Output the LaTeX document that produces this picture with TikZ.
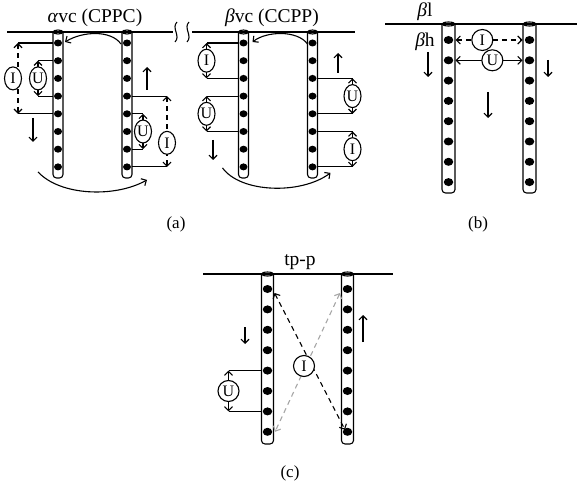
\documentclass[tikz,border=0pt]{standalone}
\usepackage{fontspec}
\setmainfont{Liberation Serif}
\usetikzlibrary{arrows.meta,shapes.geometric,calc}
\tikzset{
  ln/.style={line width=1.1pt},
  mytip/.tip={Straight Barb[length=4pt,width=8pt,line width=1.1pt]},
  arr/.style={-mytip},
  darr/.style={mytip-mytip},
  dsh/.style={dash pattern=on 5pt off 4pt},
  pipeline/.style={line width=1.1pt},
  dotn/.style={ellipse,fill=black,inner sep=0pt,minimum width=8pt,minimum height=7pt},
  dotb/.style={ellipse,fill=black,inner sep=0pt,minimum width=9.5pt,minimum height=8pt},
  laba/.style={draw=black,solid,ellipse,fill=white,line width=1.1pt,inner sep=0pt,minimum width=17pt,minimum height=23pt,font=\fontsize{16}{16}\selectfont},
  labc/.style={draw=black,solid,circle,fill=white,line width=1.1pt,inner sep=0pt,minimum size=21pt,font=\fontsize{16}{16}\selectfont},
  ttl/.style={font=\fontsize{19.5}{19.5}\selectfont},
  capl/.style={font=\fontsize{17}{17}\selectfont},
}
% pipe: #1 name, #2 x, #3 ytop, #4 ybot, #5 half width, #6 first dot y, #7 dot spacing, #8 dot style
\newcommand\mypipe[8]{%
  \draw[pipeline,rounded corners=3.5pt] ({#2-#5},#3) -- ({#2-#5},#4) -- ({#2+#5},#4) -- ({#2+#5},#3);
  \draw[pipeline] (#2,#3) ellipse ({#5} and 2);
  \foreach \i in {1,...,8} {\node[#8] (#1-\i) at (#2,{#6+(\i-1)*#7}) {};}
}
% bracket: #1 top dot, #2 bottom dot, #3 signed offset dot->pipe edge, #4 signed length, #5 arrow style, #6 label style, #7 text
\newcommand\brk[7]{%
  \draw[ln] ($(#1)+(#3,0)$) -- ++(#4,0) coordinate (bt);
  \draw[ln] ($(#2)+(#3,0)$) -- ++(#4,0) coordinate (bb);
  \draw[ln,#5] (bt) -- (bb) node[midway,#6] {#7};
}
\begin{document}
\begin{tikzpicture}[x=1pt,y=-1pt]
\useasboundingbox (0,0) rectangle (577,486);

% ---------------- panel (a) alpha vc
\node[ttl] (ta) at (95,18) {\textit{α}vc (CPPC)};
\draw[ln] (7,32) -- (173,32);
\draw[ln] (192,32) -- (355,32);
\draw[ln] (177,22) .. controls (171,28) and (181,36) .. (175,42);
\draw[ln] (189,22) .. controls (183,28) and (193,36) .. (187,42);

\mypipe{A1}{58}{32}{178}{5}{43}{17.7}{dotn}
\mypipe{A2}{127}{32}{178}{5}{43}{17.7}{dotn}

\draw[ln,arr] ($(A2-1)+(-6,1)$) .. controls +(-10,-14) and +(18,-11) .. ($(A1-1)+(7,-1)$);
\draw[ln,arr] ($(A1-8)+(-20,5)$) .. controls +(22,24) and +(-32,18) .. ($(A2-8)+(20,13)$);

\brk{A1-1}{A1-5}{-5}{-35}{darr,dsh}{laba,xshift=-5pt}{I}
\brk{A1-2}{A1-4}{-5}{-15}{darr}{laba}{U}
\draw[ln,arr] (33,118) -- (33,142);

\draw[ln,arr] (147,90) -- (147,67);
\brk{A2-4}{A2-8}{5}{35}{darr,dsh}{laba,pos=0.66}{I}
\brk{A2-5}{A2-7}{5}{11}{darr}{laba}{U}

% ---------------- panel (a) beta vc
\node[ttl] (tb) at (272,18) {\textit{β}vc (CCPP)};
\mypipe{B1}{243.5}{32}{178}{5}{43}{17.7}{dotn}
\mypipe{B2}{312.5}{32}{178}{5}{43}{17.7}{dotn}

\draw[ln,arr] ($(B2-1)+(-5,1)$) .. controls +(-10,-14) and +(14,-11) .. ($(B1-1)+(9,-1)$);
\draw[ln,arr] ($(B1-8)+(-21,1)$) .. controls +(18,25) and +(-30,22) .. ($(B2-8)+(18,6)$);

\brk{B1-1}{B1-3}{-5}{-32}{darr}{laba}{I}
\brk{B1-4}{B1-6}{-5}{-32}{darr}{laba}{U}
\draw[ln,arr] (213,140) -- (213,160);

\draw[ln,arr] (338,73) -- (338,53);
\brk{B2-3}{B2-5}{5}{35}{darr}{laba}{U}
\brk{B2-6}{B2-8}{5}{35}{darr}{laba}{I}

\node[capl] (la) at (176,224) {(a)};

% ---------------- panel (b)
\draw[ln] (385,24) -- (577,24);
\node[ttl] (bl) at (425,12) {\textit{β}l};
\node[ttl] (bh) at (425,42) {\textit{β}h};
\mypipe{C1}{448.5}{24}{193}{6.5}{40}{20.3}{dotb}
\mypipe{C2}{529.5}{24}{193}{6.5}{40}{20.3}{dotb}
\draw[ln,darr,dsh] ($(C1-1)+(7,0)$) -- ($(C2-1)+(-7,0)$) node[pos=0.4,labc] (cI) {I};
\draw[ln,darr] ($(C1-2)+(7,0)$) -- ($(C2-2)+(-7,0)$) node[pos=0.55,labc] (cU) {U};
\draw[ln,arr] (428,52) -- (428,77);
\draw[ln,arr] (548,60) -- (548,77);
\draw[ln,arr] (488,92) -- (488,118);
\node[capl] (lb) at (478,224) {(b)};

% ---------------- panel (c)
\draw[ln] (203,274) -- (393,274);
\node[ttl] (tp) at (300,262) {tp-p};
\mypipe{D1}{267.5}{274}{444}{6}{289}{20.4}{dotb}
\mypipe{D2}{347.5}{274}{444}{6}{289}{20.4}{dotb}
\draw[ln,arr] (245,327) -- (245,344);
\draw[ln,arr] (363,342) -- (363,315);
\brk{D1-5}{D1-7}{-6}{-33}{darr}{labc}{U}
\draw[ln,darr,dsh,gray!70] ($(D2-1)+(-7.5,4)$) -- ($(D1-8)+(7.5,0)$);
\draw[ln,darr,dsh] ($(D1-1)+(7,4)$) -- ($(D2-8)+(-2.5,-2)$);
\node[labc] (dI) at (304,366) {I};
\node[capl] (lc) at (290,473) {(c)};
\end{tikzpicture}
\end{document}
